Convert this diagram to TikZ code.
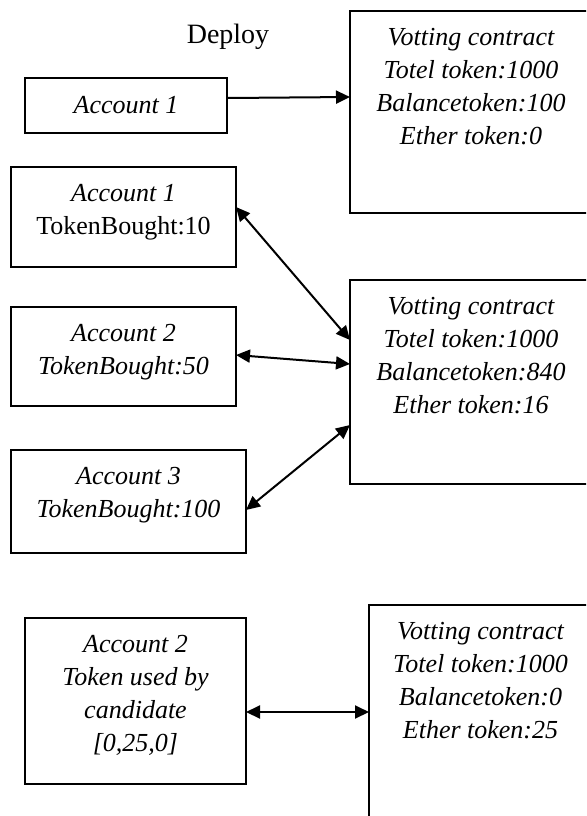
\documentclass[tikz,border=0pt]{standalone}
\usepackage{fontspec}
\setmainfont{Liberation Serif}
\usetikzlibrary{positioning,arrows.meta}

\begin{document}
\begin{tikzpicture}[x=0.5pt, y=-0.5pt,
        box/.style={draw, line width=0.7pt, inner sep=0pt, outer sep=0pt},
        txt/.style={align=center, inner sep=0pt, font=\fontsize{13}{16.5}\selectfont\itshape},
        push/.style={line width=1pt, -{Triangle[length=7pt,width=6.5pt]}},
        link/.style={line width=1pt, {Triangle[length=7pt,width=6.5pt]}-{Triangle[length=7pt,width=6.5pt]}}]
        \useasboundingbox (0,0) rectangle (586,816);
        \clip (0,0) rectangle (586,816);

        % deploy
        \node[font=\fontsize{14}{16}\selectfont] (deploy) at (228,37) {Deploy};
        \node[box, minimum width=101pt, minimum height=27.5pt] (acc0) at (126,105.5) {};
        \node[txt] (acc0txt) at (acc0) {Account 1};
        \node[box, minimum width=121pt, minimum height=101pt] (con1) at (471,112) {};
        \node[txt, below=8.5pt of con1.north] (con1txt) {Votting contract\\Totel token:1000\\Balancetoken:100\\Ether token:0};
        \draw[push] ([yshift=3.75pt]acc0.east) -- ([yshift=7.5pt]con1.west);

        % buying tokens
        \node[box, minimum width=112.5pt, minimum height=50pt] (acc1) at (123.5,217) {};
        \node[txt, below=8.5pt of acc1.north] (acc1txt) {Account 1\\{\upshape TokenBought:10}};
        \node[box, minimum width=112.5pt, minimum height=49.5pt] (acc2) at (123.5,356.5) {};
        \node[txt, below=8.5pt of acc2.north] (acc2txt) {Account 2\\TokenBought:50};
        \node[box, minimum width=117.5pt, minimum height=51.5pt] (acc3) at (128.5,501.5) {};
        \node[txt, below=8.5pt of acc3.north] (acc3txt) {Account 3\\TokenBought:100};
        \node[box, minimum width=121pt, minimum height=102pt] (con2) at (471,382) {};
        \node[txt, below=8.5pt of con2.north] (con2txt) {Votting contract\\Totel token:1000\\Balancetoken:840\\Ether token:16};
        \draw[link] ([yshift=5pt]acc1.east) -- ([yshift=21pt]con2.west);
        \draw[link] ([yshift=0.75pt]acc2.east) -- ([yshift=9pt]con2.west);
        \draw[link] ([yshift=-4.25pt]acc3.east) -- ([yshift=-21.5pt]con2.west);

        % voting
        \node[box, minimum width=110.5pt, minimum height=83pt] (vote) at (135.5,701) {};
        \node[txt, below=8.5pt of vote.north] (votetxt) {Account 2\\Token used by\\candidate\\{[0,25,0]}};
        \node[box, minimum width=111.5pt, minimum height=112.5pt] (con3) at (480.5,717.5) {};
        \node[txt, below=8.5pt of con3.north] (con3txt) {Votting contract\\Totel token:1000\\Balancetoken:0\\Ether token:25};
        \draw[link] ([yshift=-5.5pt]vote.east) -- ([yshift=2.75pt]con3.west);
\end{tikzpicture}
\end{document}
